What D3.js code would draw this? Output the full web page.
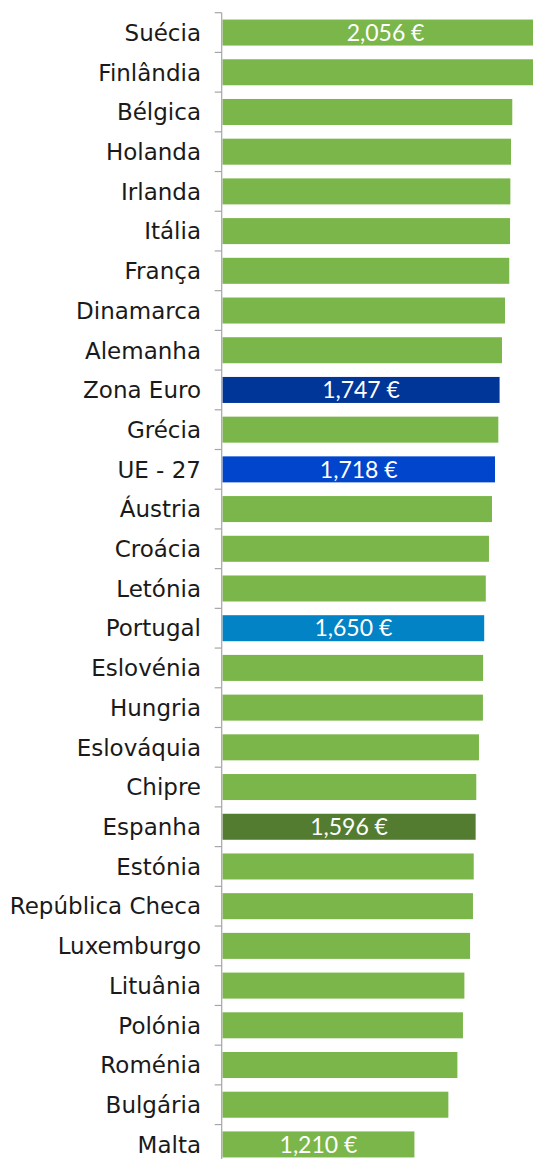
<!DOCTYPE html>
<html>
<head>
<meta charset="utf-8">
<script src="https://cdn.jsdelivr.net/npm/d3@7"></script>
<style>
  html, body { margin: 0; padding: 0; background: #fff; }
  svg { display: block; }
</style>
</head>
<body>
<div id="chart"></div>
<script>
// Monthly average wage by country (EUR)
const countries = ["Suécia","Finlândia","Bélgica","Holanda","Irlanda","Itália","França","Dinamarca","Alemanha","Zona Euro","Grécia","UE - 27","Áustria","Croácia","Letónia","Portugal","Eslovénia","Hungria","Eslováquia","Chipre","Espanha","Estónia","República Checa","Luxemburgo","Lituânia","Polónia","Roménia","Bulgária","Malta"];
const values = [2056,2040,1827,1819,1815,1813,1808,1781,1762,1747,1739,1718,1699,1680,1660,1650,1643,1642,1617,1600,1596,1584,1579,1561,1525,1516,1481,1424,1210];
// Bars that carry a printed value
const labelled = ["Suécia","Zona Euro","UE - 27","Portugal","Espanha","Malta"];
const highlight = { "Zona Euro": "#013699", "UE - 27": "#0145cd", "Portugal": "#0183c6", "Espanha": "#547c31" };
const baseColor = "#7ab64a";

const width = 533, height = 1159;
const svg = d3.select("#chart").append("svg")
  .attr("width", width).attr("height", height);

const x = d3.scaleLinear().domain([0, 2056]).range([222.5, 548.6]);
const y = d3.scaleBand().domain(countries).range([12.7, 12.7 + 39.71 * countries.length]).paddingInner(0.345).paddingOuter(0.1725);

const data = countries.map((c, i) => ({ c, v: values[i] }));

svg.append("g").selectAll("rect").data(data).join("rect")
  .attr("x", x(0))
  .attr("y", d => y(d.c))
  .attr("width", d => x(d.v) - x(0))
  .attr("height", y.bandwidth())
  .attr("fill", d => highlight[d.c] || baseColor);

// Category axis with ticks at band boundaries
const axisX = 221.7;
const step = y.step();
const bandTop = y.range()[0];
const ag = svg.append("g");
ag.append("line").attr("x1", axisX).attr("x2", axisX).attr("y1", bandTop).attr("y2", height)
  .attr("stroke", "#a6a6a6").attr("stroke-width", 1.2);
ag.selectAll("line.tick").data(d3.range(countries.length + 1)).join("line")
  .attr("class", "tick")
  .attr("x1", axisX - 7).attr("x2", axisX)
  .attr("y1", i => bandTop + i * step).attr("y2", i => bandTop + i * step)
  .attr("stroke", "#a6a6a6").attr("stroke-width", 1.2);

svg.append("g").selectAll("text").data(countries).join("text")
  .attr("x", 201)
  .attr("y", d => y(d) + y.bandwidth() / 2)
  .attr("dy", "0.36em")
  .attr("text-anchor", "end")
  .attr("font-family", "'DejaVu Sans', sans-serif")
  .attr("font-size", 23)
  .attr("fill", "#1a1a1a")
  .text(d => d);

const fmt = d3.format(",");
svg.append("g").selectAll("text").data(data.filter(d => labelled.includes(d.c))).join("text")
  .attr("x", d => (x(0) + x(d.v)) / 2)
  .attr("y", d => y(d.c) + y.bandwidth() / 2)
  .attr("dy", "0.36em")
  .attr("text-anchor", "middle")
  .attr("font-family", "Lato, sans-serif")
  .attr("font-size", 23)
  .attr("fill", "#fff")
  .text(d => fmt(d.v) + " €");
</script>
</body>
</html>
